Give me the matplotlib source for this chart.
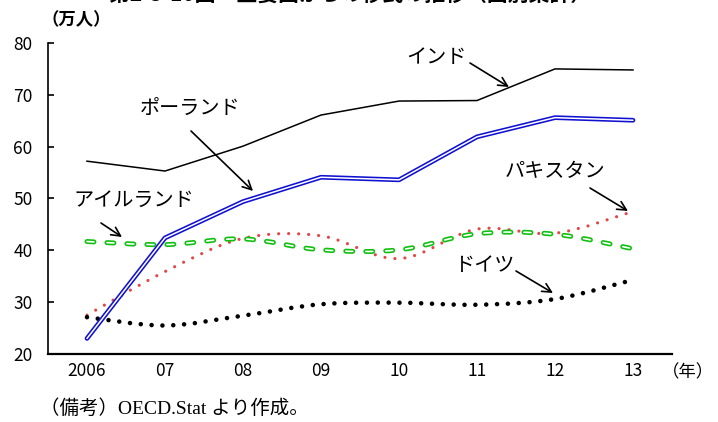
import matplotlib
matplotlib.use("Agg")
import matplotlib.pyplot as plt
import numpy as np
from matplotlib.path import Path
from matplotlib.patches import PathPatch

plt.rcParams['font.family'] = ['Noto Sans CJK JP', 'DejaVu Sans']
plt.rcParams['lines.scale_dashes'] = False

years = ["2006", "07", "08", "09", "10", "11", "12", "13"]
india = [57.2, 55.3, 60.1, 66.1, 68.8, 68.9, 75.0, 74.8]
poland = [23.0, 42.4, 49.4, 54.1, 53.6, 61.9, 65.6, 65.1]
ireland = [41.7, 41.1, 42.2, 40.1, 40.1, 43.2, 43.1, 40.3]
pakistan = [27.5, 35.9, 42.3, 42.8, 38.4, 44.1, 43.3, 47.5]
germany = [27.1, 25.5, 27.4, 29.6, 29.9, 29.5, 30.6, 34.3]

W, H = 718, 422


def px(x, y):
    # pixel position measured from the top-left corner -> figure fraction
    return (x / W, 1 - y / H)


def smooth_path(xs, ys):
    # Excel-style smoothed line: cubic Bezier segments through every point
    pts = np.column_stack([xs, ys]).astype(float)
    n = len(pts)
    verts = [pts[0]]
    codes = [Path.MOVETO]
    for i in range(n - 1):
        p0 = pts[i - 1] if i > 0 else pts[i]
        p1, p2 = pts[i], pts[i + 1]
        p3 = pts[i + 2] if i + 2 < n else pts[i + 1]
        verts += [p1 + (p2 - p0) / 6, p2 - (p3 - p1) / 6, p2]
        codes += [Path.CURVE4] * 3
    return Path(verts, codes)


fig = plt.figure(figsize=(W / 100, H / 100), dpi=100)
ax = fig.add_axes([48 / W, 1 - 354 / H, 624 / W, 311 / H])
x = np.arange(len(years))

# インド
ax.plot(x, india, color="black", lw=1.1)

# ポーランド (double line)
ax.plot(x, poland, color="#1010d0", lw=3.4, solid_capstyle="round", solid_joinstyle="round")
ax.plot(x, poland, color="white", lw=1.1, solid_capstyle="round", solid_joinstyle="round")

# パキスタン
ax.add_patch(PathPatch(smooth_path(x, pakistan), fill=False, edgecolor="#e04848",
                       lw=2.3, linestyle=(0, (0.01, 7.2)), capstyle="round"))

# アイルランド (hollow dashes)
irl = smooth_path(x, ireland)
ax.add_patch(PathPatch(irl, fill=False, edgecolor="#10c010", lw=3.6,
                       linestyle=(0, (5.0, 9.4)), capstyle="round"))
ax.add_patch(PathPatch(irl, fill=False, edgecolor="white", lw=1.2,
                       linestyle=(0, (5.0, 9.4)), capstyle="round"))

# ドイツ
ax.add_patch(PathPatch(smooth_path(x, germany), fill=False, edgecolor="black",
                       lw=3.3, linestyle=(0, (0.01, 7.8)), capstyle="round"))

ax.set_xlim(-0.5, len(years) - 0.5)
ax.set_ylim(20, 80)
ax.set_yticks(range(20, 81, 10))
ax.set_xticks(x)
ax.set_xticklabels(years)
ax.tick_params(axis="y", direction="in", length=4, width=1.2, labelsize=12.5, pad=11)
ax.tick_params(axis="x", length=0, labelsize=12.5, pad=6)
for lab in ax.get_xticklabels() + ax.get_yticklabels():
    lab.set_family(["Liberation Sans Narrow", "Noto Sans CJK JP"])
for s in ("top", "right"):
    ax.spines[s].set_visible(False)
ax.spines["left"].set_linewidth(1.2)
ax.spines["bottom"].set_linewidth(1.6)

# series labels with arrows
labels = [
    ("インド", (436, 57), (470, 63), (509, 87)),
    ("ポーランド", (190, 108), (191, 131), (253, 191)),
    ("アイルランド", (134, 200), (101, 223), (122, 237)),
    ("パキスタン", (555, 172), (590, 188), (628, 211)),
    ("ドイツ", (484, 266), (516, 271), (553, 293)),
]
for name, tpos, start, end in labels:
    fig.text(*px(*tpos), name, fontsize=14.5, ha="center", va="center")
    ax.annotate("", xy=px(*end), xycoords="figure fraction",
                xytext=px(*start), textcoords="figure fraction",
                arrowprops=dict(arrowstyle="->", color="black", lw=1.2,
                                mutation_scale=16, shrinkA=0, shrinkB=0))

fig.text(*px(76, 20), "（万人）", fontsize=12.5, ha="center", va="center", weight="bold")
fig.text(*px(714, 372), "（年）", fontsize=12.5, ha="right", va="center")
fig.text(*px(40, 409), "（備考）OECD.Stat より作成。", fontsize=14, ha="left", va="center",
         family=["Liberation Serif", "Noto Sans CJK JP"])

fig.text(*px(350, -6), "第2-3-10図　主要国からの移民の推移（国別集計）", fontsize=15,
         ha="center", va="center", weight="bold")

fig.savefig("out.png", dpi=100)
